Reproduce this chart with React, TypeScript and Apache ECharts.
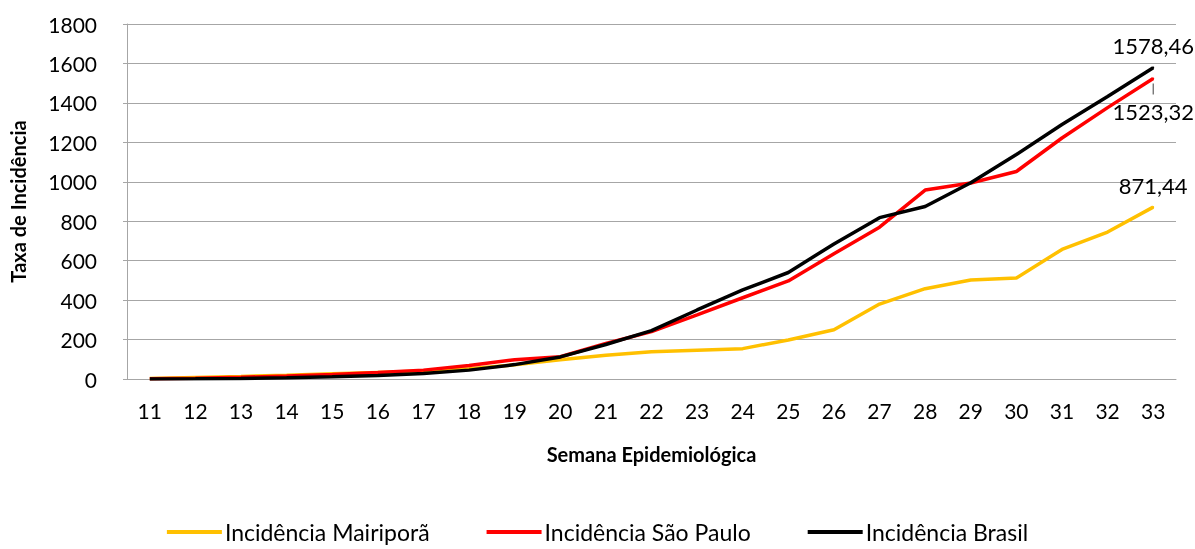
import React, { useEffect, useRef } from "react";
import * as echarts from "echarts";

const weeks = ["11","12","13","14","15","16","17","18","19","20","21","22","23","24","25","26","27","28","29","30","31","32","33"];
const mairipora = [3, 8, 13, 19, 26, 33, 40, 52, 72, 98, 120, 138, 146, 154, 198, 250, 380, 458, 502, 512, 657, 745, 871.44];
const saoPaulo = [1, 4, 9, 15, 23, 33, 45, 68, 98, 113, 180, 240, 325, 412, 497, 635, 770, 958, 994, 1052, 1222, 1376, 1523.32];
const brasil = [0, 1, 3, 6, 11, 18, 28, 45, 73, 112, 175, 245, 350, 452, 540, 685, 818, 875, 995, 1138, 1290, 1432, 1578.46];
const yTicks = [0, 200, 400, 600, 800, 1000, 1200, 1400, 1600, 1800];

const FONT = "Lato, 'Open Sans', sans-serif";
const fmt = (v: number) => v.toFixed(2).replace(".", ",");

function lastLabeled(values: number[], label: any) {
  return values.map((v, i) =>
    i === values.length - 1 ? { value: v, symbol: "circle", symbolSize: 2, label } : v
  );
}

export default function App() {
  const ref = useRef<HTMLDivElement>(null);
  useEffect(() => {
    if (!ref.current) return;
    const chart = echarts.init(ref.current, null, { renderer: "svg" });
    const labelBase = {
      show: true,
      fontFamily: FONT,
      fontSize: 22,
      color: "#000",
      formatter: (p: any) => fmt(p.value),
    };
    chart.setOption({
      animation: false,
      grid: { left: 123, right: 19, top: 24, bottom: 170, containLabel: false },
      legend: {
        top: 515,
        left: "center",
        padding: [5, 5, 0, 5],
        itemWidth: 55,
        itemHeight: 4,
        itemGap: 57,
        icon: "rect",
        textStyle: { fontFamily: FONT, fontSize: 23, lineHeight: 24, color: "#000", padding: [0, 0, 0, -2] },
        data: ["Incidência Mairiporã", "Incidência São Paulo", "Incidência Brasil"],
      },
      xAxis: {
        type: "category",
        data: weeks,
        boundaryGap: true,
        axisLine: { lineStyle: { color: "#a6a6a6", width: 1 } },
        axisTick: { show: false },
        axisLabel: { fontFamily: FONT, fontSize: 21, color: "#000", margin: 21 },
        name: "Semana Epidemiológica",
        nameLocation: "middle",
        nameGap: 65,
        nameTextStyle: { fontFamily: FONT, fontSize: 20, fontWeight: "bold", color: "#000" },
      },
      yAxis: {
        type: "value",
        min: yTicks[0],
        max: yTicks[yTicks.length - 1],
        interval: 200,
        axisLine: { show: true, lineStyle: { color: "#a6a6a6", width: 1 } },
        axisTick: { show: true, length: 4, lineStyle: { color: "#a6a6a6" } },
        splitLine: { lineStyle: { color: "#a6a6a6", width: 1 } },
        axisLabel: { fontFamily: FONT, fontSize: 21, color: "#000", margin: 30, formatter: (v: number) => String(v) },
        name: "Taxa de Incidência",
        nameLocation: "middle",
        nameGap: 99,
        nameTextStyle: { fontFamily: FONT, fontSize: 20, fontWeight: "bold", color: "#000" },
      },
      series: [
        {
          name: "Incidência Mairiporã",
          type: "line",
          symbol: "none",
          color: "#FFC000",
          lineStyle: { width: 3.5, color: "#FFC000" },
          data: lastLabeled(mairipora, { ...labelBase, position: "top", distance: 10 }),
        },
        {
          name: "Incidência São Paulo",
          type: "line",
          symbol: "none",
          color: "#FF0000",
          lineStyle: { width: 3.5, color: "#FF0000" },
          data: lastLabeled(saoPaulo, {
            ...labelBase,
            position: "bottom",
            distance: 4,
            align: "center",
            formatter: (p: any) => "{bar|}\n{v|" + fmt(p.value) + "}",
            rich: {
              bar: { width: 1, height: 11, lineHeight: 11, backgroundColor: "#404040", align: "center" },
              v: { fontFamily: FONT, fontSize: 22, lineHeight: 34, color: "#000", align: "center" },
            },
          }),
        },
        {
          name: "Incidência Brasil",
          type: "line",
          symbol: "none",
          color: "#000000",
          lineStyle: { width: 3.5, color: "#000000" },
          data: lastLabeled(brasil, { ...labelBase, position: "top", distance: 10 }),
        },
      ],
    });
    return () => chart.dispose();
  }, []);
  return <div ref={ref} style={{ position: "fixed", left: 0, top: 0, width: 1195, height: 549 }} />;
}
